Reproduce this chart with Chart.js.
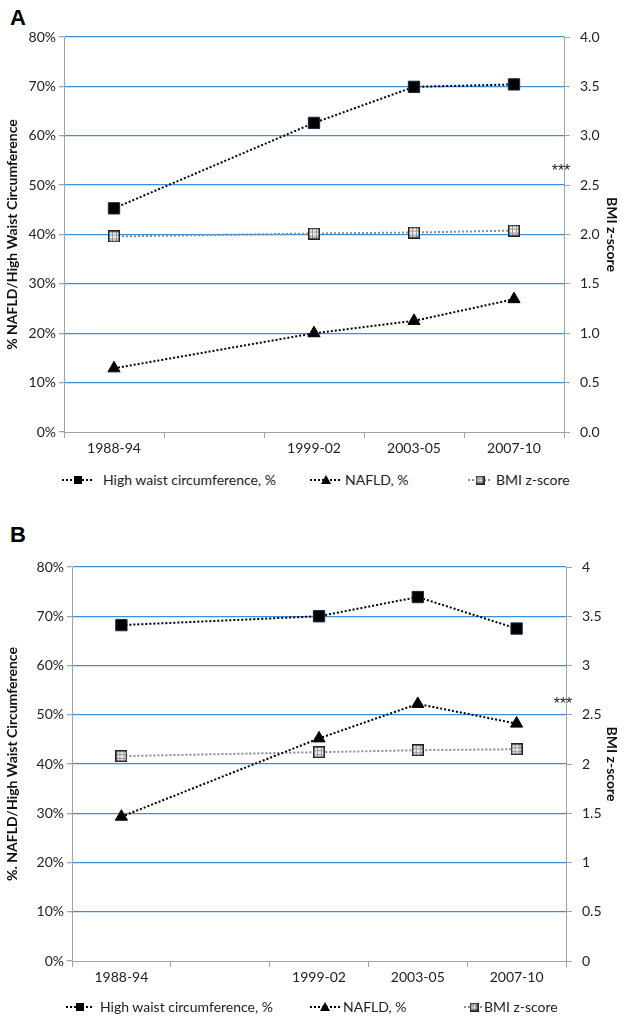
<!DOCTYPE html>
<html>
<head>
<meta charset="utf-8">
<script src="https://cdn.jsdelivr.net/npm/chart.js@4.4.1/dist/chart.umd.min.js"></script>
<style>
  body { margin: 0; background: #fff; width: 624px; height: 1021px; position: relative; overflow: hidden;
         font-family: Lato, "Open Sans", sans-serif; color: #222; }
  canvas.chart { position: absolute; left: 0; }
  #chartA { top: 0; }
  #chartB { top: 500px; }
  .panel { position: absolute; left: 10px; font: bold 22px "Liberation Sans", Arial, sans-serif; color: #000; line-height: 22px; }
  .leg { position: absolute; font-size: 14px; line-height: 16px; white-space: nowrap; }
  .ico { position: absolute; }
</style>
</head>
<body>
<div class="panel" style="top:7px">A</div>
<canvas id="chartA" class="chart" width="624" height="470"></canvas>
<div class="panel" style="top:524px">B</div>
<canvas id="chartB" class="chart" width="624" height="500"></canvas>
<div id="legends"></div>
<script>
// --- data ---
const periods = ['1988-94', '', '1999-02', '2003-05', '2007-10'];   // empty slot keeps the time gap

const waistA = [45.3, null, 62.6, 69.9, 70.4];
const nafldA = [12.9, null, 20.0, 22.5, 26.9];
const bmiA   = [1.98, null, 2.01, 2.02, 2.04];

const waistB = [68.2, null, 70.0, 73.9, 67.5];
const nafldB = [29.3, null, 45.2, 52.2, 48.2];
const bmiB   = [2.08, null, 2.12, 2.14, 2.15];

const pctTicks = [0, 10, 20, 30, 40, 50, 60, 70, 80];
const bmiTicksA = ['0.0', '0.5', '1.0', '1.5', '2.0', '2.5', '3.0', '3.5', '4.0'];
const bmiTicksB = ['0', '0.5', '1', '1.5', '2', '2.5', '3', '3.5', '4'];

const legendNames = ['High waist circumference, %', 'NAFLD, %', 'BMI z-score'];

Chart.defaults.animation = false;
Chart.defaults.font.family = 'Lato, "Open Sans", sans-serif';
Chart.defaults.font.size = 14;
Chart.defaults.color = '#222';

const GRID_BLUE = '#3f8ed8';
const AXIS_GREY = '#a3a3a3';

// grid-patterned square used for the BMI series
function bmiMarker(size) {
  const c = document.createElement('canvas');
  c.width = size; c.height = size;
  const g = c.getContext('2d');
  g.fillStyle = '#ececec';
  g.fillRect(0, 0, size, size);
  g.strokeStyle = '#9a9a9a';
  g.lineWidth = 1;
  for (let i = 1; i < 3; i++) {
    const p = Math.round(size * i / 3) + 0.5;
    g.beginPath(); g.moveTo(p, 1); g.lineTo(p, size - 1); g.stroke();
    g.beginPath(); g.moveTo(1, p); g.lineTo(size - 1, p); g.stroke();
  }
  g.strokeStyle = '#222';
  g.lineWidth = 1.5;
  g.strokeRect(0.75, 0.75, size - 1.5, size - 1.5);
  return c;
}

const bmiPoint = bmiMarker(12);

// '***' next to the right axis
const starsPlugin = {
  id: 'stars',
  afterDraw(chart, args, opts) {
    const { ctx, chartArea, scales } = chart;
    ctx.save();
    ctx.font = '16px "Liberation Sans", Arial, sans-serif';
    ctx.fillStyle = '#222';
    ctx.textAlign = 'center';
    ctx.textBaseline = 'middle';
    ctx.fillText('***', chartArea.right - 3, scales.y1.getPixelForValue(opts.at) + 2);
    ctx.restore();
  }
};

function makeChart(id, d) {
  new Chart(document.getElementById(id), {
    type: 'line',
    data: {
      labels: periods,
      datasets: [
        {
          label: legendNames[0], data: d.waist, yAxisID: 'y',
          borderColor: '#000', borderWidth: 2, borderDash: [2, 2], spanGaps: true,
          pointStyle: 'rect', pointRadius: 8, pointBackgroundColor: '#000', pointBorderColor: '#1d2847', pointBorderWidth: 1
        },
        {
          label: legendNames[1], data: d.nafld, yAxisID: 'y',
          borderColor: '#000', borderWidth: 2, borderDash: [2, 2], spanGaps: true,
          pointStyle: 'triangle', pointRadius: 7, pointBackgroundColor: '#000', pointBorderColor: '#000', pointBorderWidth: 1
        },
        {
          label: legendNames[2], data: d.bmi, yAxisID: 'y1',
          borderColor: '#8c8c8c', borderWidth: 2, borderDash: [2, 2], spanGaps: true,
          pointStyle: bmiPoint, pointRadius: 6
        }
      ]
    },
    options: {
      responsive: false,
      animation: false,
      events: [],
      layout: { padding: { top: d.padTop, left: 0, right: 0, bottom: 0 } },
      plugins: {
        legend: { display: false },
        tooltip: { enabled: false },
        stars: { at: d.starAt }
      },
      scales: {
        x: {
          type: 'category',
          offset: true,
          grid: { offset: true, drawOnChartArea: false, drawTicks: true, tickLength: 6, color: AXIS_GREY },
          border: { display: true, color: AXIS_GREY, width: 1 },
          ticks: { padding: 2, maxRotation: 0, autoSkip: false, color: '#222' },
          afterFit: s => { s.height = d.axisH; }
        },
        y: {
          position: 'left',
          min: 0, max: 80,
          afterBuildTicks: s => { s.ticks = pctTicks.map(v => ({ value: v })); },
          ticks: { padding: 3, callback: v => v + '%', color: '#222' },
          grid: {
            color: c => c.tick && c.tick.value === 0 ? 'rgba(0,0,0,0)' : GRID_BLUE,
            tickColor: AXIS_GREY, tickLength: 5, lineWidth: 1.3
          },
          border: { display: true, color: AXIS_GREY, width: 1 },
          title: {
            display: true, text: d.leftTitle, color: '#111',
            font: { size: 14, weight: 'bold' }, padding: { top: 4, bottom: 0 }
          },
          afterFit: s => { s.width = d.leftW; }
        },
        y1: {
          position: 'right',
          min: 0, max: 4,
          afterBuildTicks: s => { s.ticks = d.bmiTicks.map(t => ({ value: parseFloat(t) })); },
          ticks: { padding: 10, callback: (v, i) => d.bmiTicks[i], color: '#222' },
          grid: { drawOnChartArea: false, tickLength: 6, color: AXIS_GREY },
          border: { display: true, color: AXIS_GREY, width: 1 },
          title: {
            display: true, text: 'BMI z-score', color: '#111',
            font: { size: 14, weight: 'bold' }, padding: { top: 4, bottom: 0 }
          },
          afterFit: s => { s.width = d.rightW; }
        }
      }
    },
    plugins: [starsPlugin]
  });
}

makeChart('chartA', {
  waist: waistA, nafld: nafldA, bmi: bmiA, bmiTicks: bmiTicksA,
  padTop: 37, axisH: 38, leftW: 64, rightW: 60, starAt: 2.66,
  leftTitle: '% NAFLD/High Waist Circumference'
});

makeChart('chartB', {
  waist: waistB, nafld: nafldB, bmi: bmiB, bmiTicks: bmiTicksB,
  padTop: 67, axisH: 39, leftW: 72, rightW: 58, starAt: 2.62,
  leftTitle: '%. NAFLD/High Waist Circumference'
});

// --- legends: dotted stub + small marker + label ---
function legendIcon(kind, w) {
  const c = document.createElement('canvas');
  c.width = w; c.height = 14;
  const g = c.getContext('2d');
  const mid = Math.round(w / 2);
  g.setLineDash([2, 2]);
  g.lineWidth = 2;
  g.strokeStyle = kind === 2 ? '#8c8c8c' : '#000';
  g.beginPath(); g.moveTo(0, 7); g.lineTo(w, 7); g.stroke();
  g.setLineDash([]);
  if (kind === 0) {
    g.fillStyle = '#000';
    g.fillRect(mid - 4, 3, 8, 8);
  } else if (kind === 1) {
    g.fillStyle = '#000';
    g.beginPath(); g.moveTo(mid, 2); g.lineTo(mid + 5, 11); g.lineTo(mid - 5, 11); g.closePath(); g.fill();
  } else {
    g.drawImage(bmiMarker(9), mid - 4.5, 2.5);
  }
  return c;
}

function addLegend(y, items) {
  const host = document.getElementById('legends');
  items.forEach((it, k) => {
    const ic = legendIcon(k, it.w);
    ic.className = 'ico';
    ic.style.left = it.icon + 'px';
    ic.style.top = (y - 7) + 'px';
    host.appendChild(ic);
    const t = document.createElement('div');
    t.className = 'leg';
    t.textContent = legendNames[k];
    t.style.left = it.text + 'px';
    t.style.top = (y - 8) + 'px';
    host.appendChild(t);
  });
}

addLegend(480, [{ icon: 62, w: 32, text: 103 }, { icon: 310, w: 32, text: 345 }, { icon: 468, w: 24, text: 496 }]);
addLegend(1007, [{ icon: 66, w: 28, text: 100 }, { icon: 310, w: 30, text: 343 }, { icon: 464, w: 20, text: 484 }]);
</script>
</body>
</html>
